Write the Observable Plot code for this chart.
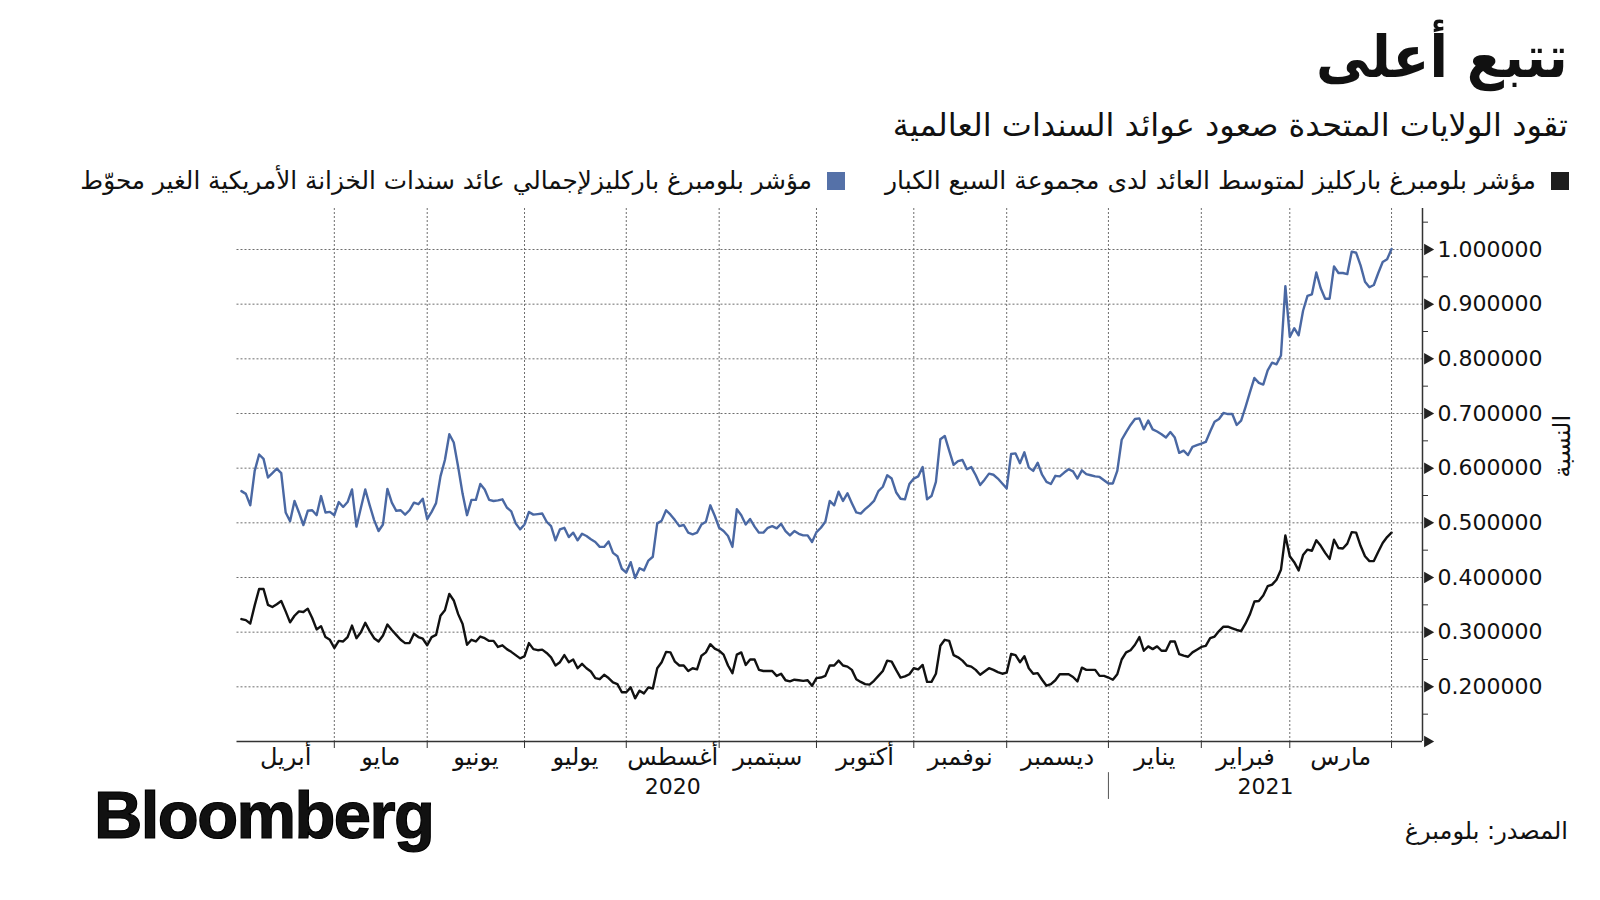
<!DOCTYPE html>
<html><head><meta charset="utf-8">
<script src="https://cdn.jsdelivr.net/npm/d3@7"></script>
<script src="https://cdn.jsdelivr.net/npm/@observablehq/plot@0.6"></script>
<style>
html,body{margin:0;padding:0;background:#fff;}
body{width:1600px;height:900px;position:relative;overflow:hidden;font-family:"DejaVu Sans",sans-serif;color:#111;}
.t{position:absolute;white-space:nowrap;direction:rtl;line-height:1;}
#title{right:32px;top:28px;font-size:58px;font-weight:bold;transform:scaleX(0.93);transform-origin:right center;}
#subtitle{right:32px;top:109px;font-size:32px;}
.leg{position:absolute;top:168px;font-size:25px;white-space:nowrap;direction:rtl;line-height:25px;display:flex;align-items:center;}
.sw{display:inline-block;width:18px;height:18px;margin-left:15px;}
#source{right:32px;top:819px;font-size:24px;}
#logo{position:absolute;left:94px;top:781px;font-family:"Liberation Sans",Arial,sans-serif;font-weight:bold;font-size:67px;letter-spacing:-1.6px;line-height:1;-webkit-text-stroke:1.2px #000;}
#chart{position:absolute;left:0;top:195px;}
</style></head><body>
<div class="t" id="title">تتبع أعلى</div>
<div class="t" id="subtitle">تقود الولايات المتحدة صعود عوائد السندات العالمية</div>
<div class="leg" style="right:31px"><span class="sw" style="background:#1d1d1d"></span>مؤشر بلومبرغ باركليز لمتوسط العائد لدى مجموعة السبع الكبار</div>
<div class="leg" style="right:755px;font-size:24.7px"><span class="sw" style="background:#5571a8"></span>مؤشر بلومبرغ باركليزلإجمالي عائد سندات الخزانة الأمريكية الغير محوّط</div>
<div id="chart"></div>
<div id="logo">Bloomberg</div>
<div class="t" id="source">المصدر: بلومبرغ</div>
<script>
// Business-day series, one value per trading day starting 2 Apr 2020
const usTreasury = [
0.558,0.553,0.532,0.595,0.625,0.617,0.583,0.591,0.599,0.591,
0.519,0.503,0.540,0.519,0.496,0.522,0.523,0.514,0.549,0.519,
0.520,0.514,0.538,0.529,0.538,0.561,0.493,0.527,0.561,0.532,
0.505,0.485,0.497,0.562,0.537,0.522,0.523,0.515,0.523,0.537,
0.534,0.544,0.507,0.520,0.536,0.585,0.615,0.662,0.647,0.602,
0.553,0.514,0.542,0.542,0.571,0.561,0.542,0.540,0.541,0.543,
0.528,0.521,0.499,0.488,0.497,0.520,0.515,0.516,0.517,0.502,
0.494,0.468,0.488,0.491,0.474,0.482,0.468,0.480,0.476,0.470,
0.465,0.456,0.456,0.466,0.445,0.439,0.416,0.409,0.428,0.399,
0.417,0.413,0.431,0.438,0.499,0.504,0.523,0.515,0.505,0.494,
0.496,0.482,0.479,0.482,0.497,0.502,0.532,0.513,0.491,0.485,
0.476,0.456,0.525,0.514,0.497,0.507,0.493,0.482,0.482,0.491,
0.494,0.490,0.498,0.485,0.477,0.485,0.480,0.477,0.477,0.465,
0.483,
0.491,0.502,0.540,0.532,0.557,0.540,0.554,0.536,0.519,0.517,
0.525,0.532,0.540,0.558,0.566,0.587,0.581,0.556,0.544,0.543,
0.571,0.581,0.585,0.602,0.543,0.549,0.575,0.653,0.659,0.632,
0.606,0.613,0.615,0.598,0.602,0.587,0.569,0.579,0.590,0.588,
0.581,0.572,0.563,0.626,0.627,0.609,0.629,0.601,0.595,0.610,
0.588,0.575,0.571,0.586,0.585,0.592,0.598,0.594,0.581,0.596,
0.589,0.587,0.585,0.584,0.578,0.572,0.572,0.595,0.652,0.666,
0.679,0.690,0.691,0.671,0.687,0.671,0.667,0.662,0.656,0.666,
0.656,0.628,0.632,0.624,0.639,0.642,0.645,0.648,0.667,0.685,
0.690,0.701,0.699,0.699,0.679,0.687,0.712,0.739,0.765,0.756,
0.753,0.779,0.793,0.790,0.806,0.933,0.840,0.856,0.843,0.888,
0.915,0.918,0.958,0.929,0.910,0.910,0.969,0.957,0.957,0.955,
0.996,0.994,0.971,0.941,0.931,0.935,0.957,0.977,0.982,1.001
];
const g7Yield = [
0.324,0.322,0.316,0.349,0.379,0.379,0.350,0.346,0.351,0.357,
0.338,0.318,0.330,0.338,0.337,0.343,0.326,0.305,0.311,0.291,
0.286,0.271,0.284,0.283,0.291,0.312,0.289,0.300,0.317,0.302,
0.289,0.283,0.294,0.314,0.304,0.295,0.286,0.280,0.280,0.297,
0.291,0.288,0.276,0.291,0.295,0.330,0.340,0.370,0.358,0.333,
0.315,0.277,0.286,0.283,0.292,0.289,0.284,0.284,0.273,0.276,
0.269,0.264,0.258,0.252,0.256,0.280,0.269,0.267,0.268,0.262,
0.254,0.239,0.245,0.258,0.245,0.250,0.234,0.242,0.234,0.228,
0.216,0.214,0.222,0.216,0.208,0.205,0.190,0.190,0.199,0.179,
0.193,0.188,0.199,0.197,0.234,0.245,0.264,0.263,0.246,0.239,
0.239,0.229,0.234,0.232,0.257,0.263,0.278,0.270,0.266,0.259,
0.239,0.225,0.259,0.263,0.240,0.250,0.250,0.231,0.229,0.229,
0.229,0.220,0.224,0.212,0.210,0.213,0.212,0.211,0.212,0.202,
0.216,
0.217,0.220,0.239,0.239,0.248,0.239,0.237,0.231,0.214,0.209,
0.205,0.204,0.211,0.220,0.229,0.248,0.246,0.231,0.217,0.219,
0.223,0.234,0.232,0.240,0.209,0.209,0.224,0.275,0.286,0.284,
0.258,0.254,0.248,0.239,0.237,0.231,0.222,0.228,0.234,0.231,
0.227,0.224,0.226,0.260,0.258,0.245,0.256,0.234,0.224,0.225,
0.213,0.202,0.205,0.212,0.223,0.223,0.223,0.218,0.210,0.235,
0.231,0.231,0.231,0.220,0.220,0.217,0.213,0.223,0.250,0.263,
0.267,0.277,0.291,0.266,0.274,0.269,0.274,0.266,0.266,0.283,
0.283,0.260,0.257,0.255,0.263,0.268,0.273,0.275,0.289,0.292,
0.302,0.310,0.310,0.307,0.304,0.302,0.316,0.333,0.356,0.357,
0.367,0.384,0.387,0.396,0.414,0.477,0.439,0.428,0.413,0.441,
0.451,0.449,0.468,0.458,0.445,0.434,0.469,0.454,0.453,0.462,
0.483,0.482,0.458,0.439,0.430,0.430,0.447,0.463,0.474,0.482
];
const monthNames = ["أبريل","مايو","يونيو","يوليو","أغسطس","سبتمبر","أكتوبر","نوفمبر","ديسمبر","يناير","فبراير","مارس"];
const yearNames = ["2020","2021"];
const yTicks = [0.2,0.3,0.4,0.5,0.6,0.7,0.8,0.9,1.0];
const yMinor = [0.15,0.25,0.35,0.45,0.55,0.65,0.75,0.85,0.95,1.05];
const yAxisTitle = "النسبة";
const yAxisTitleAt = 0.64;

// Trading-day calendar (x is the business-day index from 1 Apr 2020)
const days = d3.utcDay.range(new Date(Date.UTC(2020,3,1)), new Date(Date.UTC(2021,3,13)))
  .filter(d => d.getUTCDay() % 6 !== 0);
const xDomain = [0, days.length - 1];
const monthStarts = days.map((d,i)=>i).filter(i => i === 0 || days[i].getUTCMonth() !== days[i-1].getUTCMonth());
const monthLabels = monthNames.map((name,k) => ({name, c: (monthStarts[k] + monthStarts[k+1]) / 2}));
const yearSplit = monthStarts[9];
const yearLabels = [
  {name: yearNames[0], c: (xDomain[0] + yearSplit) / 2},
  {name: yearNames[1], c: (yearSplit + xDomain[1]) / 2}
];
const blueRows = usTreasury.map((v,i) => ({i: i + 1, v}));
const blackRows = g7Yield.map((v,i) => ({i: i + 1, v}));
const yDomain = [0.1, 1.075];
const triTicks = [0.1, ...yTicks];

const grid = {stroke: "#6e6e6e", strokeWidth: 1, strokeDasharray: "2,2"};
const chart = Plot.plot({
  width: 1600, height: 620,
  marginTop: 13, marginBottom: 74, marginLeft: 236.5, marginRight: 178,
  x: {type: "linear", domain: xDomain, axis: null},
  y: {domain: yDomain, axis: null},
  style: {fontFamily: "DejaVu Sans", background: "transparent", overflow: "visible", color: "#111"},
  marks: [
    Plot.ruleY(yTicks, grid),
    Plot.ruleX(monthStarts.slice(1), grid),
    Plot.line(blueRows, {x: "i", y: "v", stroke: "#4a68a3", strokeWidth: 2.4, strokeLinejoin: "round"}),
    Plot.line(blackRows, {x: "i", y: "v", stroke: "#111", strokeWidth: 2.4, strokeLinejoin: "round"}),
    Plot.ruleY([yDomain[0]], {stroke: "#333", strokeWidth: 1.5}),
    Plot.ruleX([xDomain[1]], {stroke: "#333", strokeWidth: 1.5}),
    Plot.axisX(monthStarts.slice(1), {tickSize: 7, tickFormat: () => "", stroke: "#333", label: null}),
    Plot.text(monthLabels, {x: "c", text: "name", frameAnchor: "bottom", dy: 23, fontSize: 24, fill: "#111"}),
    Plot.text(yearLabels, {x: "c", text: "name", frameAnchor: "bottom", dy: 52, fontSize: 22, fill: "#111"}),
    Plot.ruleX([yearSplit], {y1: 0.043, y2: -0.006, stroke: "#555", strokeWidth: 1}),
    Plot.axisY(yMinor, {anchor: "right", tickSize: 5, tickFormat: () => "", stroke: "#333", label: null}),
    Plot.axisY(yTicks, {anchor: "right", tickSize: 0, tickPadding: 15, tickFormat: d3.format(".6f"), fontSize: 22, fill: "#111", label: null}),
    Plot.dot(triTicks, {x: () => xDomain[1], y: d => d, symbol: "triangle", r: 4.3, rotate: 90, fill: "#222", stroke: null, dx: 5}),
    Plot.text([yAxisTitle], {x: () => xDomain[1], y: () => yAxisTitleAt, dx: 140, rotate: -90, fontSize: 24, fill: "#111"})
  ]
});
document.getElementById("chart").appendChild(chart);
</script>
</body></html>
